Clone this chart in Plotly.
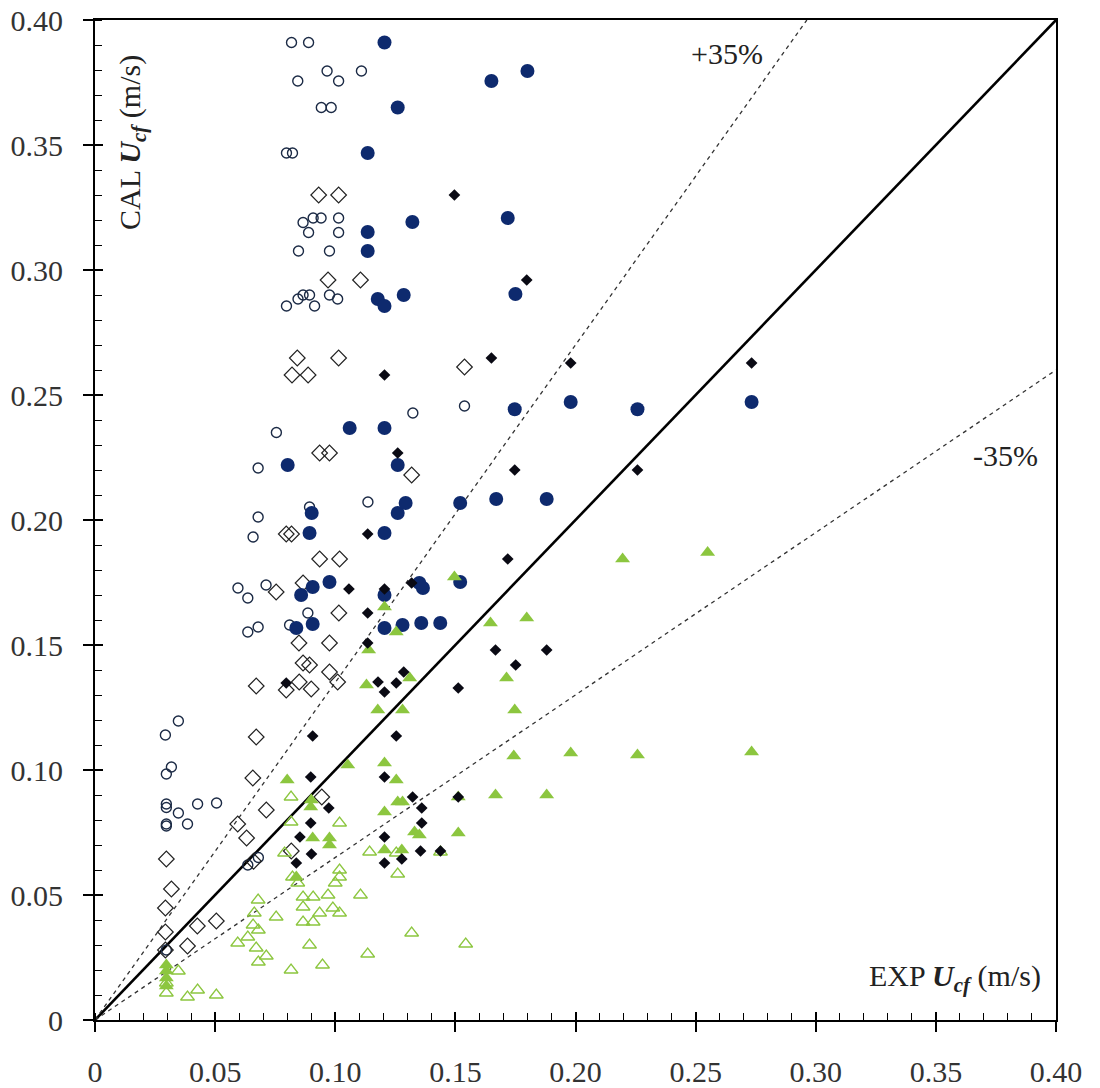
import plotly.graph_objects as go

# ---- data (EXP Ucf, CAL Ucf) ----
oc_x = [0.0818,0.0889,0.0844,0.0966,0.1014,0.1109,0.0942,0.0983,0.0797,0.0822,0.0866,0.0908,0.0941,0.1014,0.0889,0.1014,0.0847,0.0976,0.0797,0.0845,0.0866,0.0893,0.0914,0.0976,0.101,
        0.1323,0.1538,0.0755,0.0679,0.0679,0.0658,0.1136,0.0893,0.0595,0.0636,0.0712,0.0636,0.0679,0.081,0.0886,
        0.0293,0.0347,0.0297,0.0318,0.0297,0.0297,0.0297,0.0297,0.0347,0.0385,0.0427,0.0506,0.0297,0.068,0.0636]
oc_y = [0.391,0.391,0.3756,0.3796,0.3756,0.3796,0.365,0.365,0.3468,0.3468,0.319,0.3208,0.3208,0.3208,0.315,0.315,0.3076,0.3076,0.2856,0.2884,0.290,0.290,0.2856,0.290,0.2884,
        0.2428,0.2456,0.235,0.2208,0.2012,0.1932,0.2072,0.2052,0.1728,0.1688,0.174,0.1552,0.1572,0.158,0.1628,
        0.114,0.1196,0.0984,0.1012,0.0864,0.085,0.0784,0.0776,0.0828,0.0784,0.0864,0.0868,0.028,0.065,0.062]

fc_x = [0.1205,0.165,0.180,0.126,0.1135,0.1321,0.1718,0.1135,0.1135,0.1177,0.1205,0.1285,0.175,
        0.1747,0.198,0.2258,0.2733,0.106,0.1205,0.0802,0.126,0.0902,0.126,0.1293,0.152,0.167,0.188,0.0893,0.1205,
        0.0858,0.0906,0.0976,0.1205,0.135,0.1365,0.152,0.0838,0.0906,0.1205,0.128,0.1358,0.1437]
fc_y = [0.391,0.3756,0.3796,0.365,0.3468,0.3192,0.3208,0.3152,0.3076,0.2884,0.2856,0.29,0.2904,
        0.2443,0.2472,0.2443,0.2472,0.2368,0.2368,0.222,0.222,0.2028,0.2028,0.2068,0.2068,0.2084,0.2084,0.1948,0.1948,
        0.17,0.1732,0.1752,0.17,0.1748,0.1728,0.1752,0.1568,0.1584,0.1568,0.158,0.1588,0.1588]

od_x = [0.0931,0.1014,0.0970,0.1105,0.0842,0.1014,0.082,0.0887,0.0935,0.0976,0.1318,0.1538,0.0796,0.0818,0.0935,0.1018,0.0866,0.0754,0.1015,0.0849,0.0976,0.0866,0.0893,
        0.0671,0.0796,0.085,0.09,0.0976,0.101,0.0671,0.0657,0.0297,0.0944,0.0713,0.0594,0.0631,0.066,0.0817,0.0318,0.0293,0.0293,0.0293,0.0385,0.0426,0.0505]
od_y = [0.33,0.33,0.296,0.296,0.2648,0.2648,0.258,0.258,0.2268,0.2268,0.218,0.2612,0.1944,0.1944,0.1844,0.1844,0.1748,0.1712,0.1628,0.1508,0.1508,0.1428,0.142,
        0.1336,0.132,0.1352,0.1324,0.1392,0.1352,0.1132,0.0968,0.0644,0.0892,0.084,0.0784,0.0728,0.0635,0.0676,0.0524,0.0448,0.0352,0.028,0.0296,0.0376,0.0396]

fd_x = [0.1496,0.1797,0.1205,0.165,0.198,0.2733,0.2258,0.1747,0.126,0.1135,0.1718,0.1057,0.1205,0.1318,0.1135,0.1135,0.1285,0.1178,0.1205,0.1254,0.1512,0.1751,0.1667,0.188,
        0.0906,0.1254,0.0898,0.1205,0.0973,0.1322,0.136,0.1512,0.0898,0.136,0.0853,0.1205,0.0901,0.1355,0.1438,0.0838,0.1205,0.1277,0.0796]
fd_y = [0.33,0.296,0.258,0.2648,0.2628,0.2628,0.22,0.22,0.2268,0.1944,0.1844,0.1724,0.1724,0.1748,0.1628,0.1508,0.1392,0.1352,0.1312,0.1348,0.1328,0.142,0.148,0.148,
        0.1136,0.1136,0.0972,0.0972,0.0848,0.0892,0.0848,0.0892,0.0788,0.0788,0.0732,0.0732,0.0664,0.0676,0.0676,0.0628,0.0628,0.0644,0.1348]

ft_x = [0.2196,0.255,0.2258,0.2733,0.1713,0.1747,0.1743,0.198,0.1667,0.188,0.1512,0.1512,0.1052,0.1205,0.1254,0.080,0.0898,0.1205,0.126,0.128,0.133,0.135,0.1205,0.1277,
        0.0976,0.0906,0.0838,0.113,0.1177,0.128,0.131,0.1496,0.1254,0.1205,0.1139,0.1646,0.1797,0.0297,0.0297,0.0297,0.0297,0.0976,0.09]
ft_y = [0.1844,0.187,0.106,0.1072,0.1368,0.124,0.1056,0.1068,0.09,0.09,0.0748,0.0892,0.102,0.1028,0.096,0.096,0.0852,0.0832,0.0872,0.0872,0.0752,0.074,0.068,0.068,
        0.0728,0.0728,0.0572,0.134,0.124,0.124,0.1368,0.1772,0.1552,0.1652,0.148,0.1588,0.1608,0.0136,0.0168,0.0196,0.022,0.070,0.088]

ot_x = [0.0816,0.0816,0.1018,0.1143,0.0789,0.0822,0.0844,0.1018,0.1018,0.1,0.1105,0.0866,0.0908,0.0970,0.0866,0.0935,0.099,0.1018,0.0866,0.0908,0.0754,0.0679,0.0663,0.0658,
        0.0636,0.0594,0.068,0.0671,0.0713,0.068,0.0893,0.0947,0.0816,0.1135,0.0347,0.0385,0.0427,0.0505,0.0297,0.126,0.1318,0.1543,0.1438,0.1254,0.0297]
ot_y = [0.0892,0.0792,0.0788,0.0672,0.0668,0.0572,0.0548,0.06,0.0572,0.0548,0.05,0.0492,0.0492,0.05,0.0452,0.0428,0.0448,0.0428,0.0392,0.0392,0.0412,0.048,0.0428,0.038,
        0.0332,0.0308,0.036,0.0288,0.0256,0.0232,0.03,0.022,0.02,0.0264,0.0196,0.0092,0.012,0.01,0.0108,0.0584,0.0348,0.0304,0.0672,0.0668,0.0148]

line_x = [0.0, 0.40]
upper_x = [0.0, 0.40 / 1.35]
tick_vals = [0, 0.05, 0.10, 0.15, 0.20, 0.25, 0.30, 0.35, 0.40]
tick_text = ["0", "0.05", "0.10", "0.15", "0.20", "0.25", "0.30", "0.35", "0.40"]

NAVY = "#0e2a6e"
GREEN = "#8cc63f"
FONT = "Liberation Serif"
FS = 30

fig = go.Figure()
fig.add_trace(go.Scatter(x=line_x, y=[v for v in line_x], mode="lines",
                         line=dict(color="black", width=2.6), hoverinfo="skip"))
fig.add_trace(go.Scatter(x=upper_x, y=[1.35 * v for v in upper_x], mode="lines",
                         line=dict(color="#333", width=1.3, dash="4px,4px"), hoverinfo="skip"))
fig.add_trace(go.Scatter(x=line_x, y=[0.65 * v for v in line_x], mode="lines",
                         line=dict(color="#333", width=1.3, dash="4px,4px"), hoverinfo="skip"))

fig.add_trace(go.Scatter(x=oc_x, y=oc_y, mode="markers",
                         marker=dict(symbol="circle-open", size=10, color="#1b2a45", line=dict(width=1.4))))
fig.add_trace(go.Scatter(x=od_x, y=od_y, mode="markers",
                         marker=dict(symbol="diamond-open", size=12, color="#222", line=dict(width=1.2))))
fig.add_trace(go.Scatter(x=ot_x, y=ot_y, mode="markers",
                         marker=dict(symbol="triangle-up-open", size=12, color=GREEN, line=dict(width=1.3))))
fig.add_trace(go.Scatter(x=fc_x, y=fc_y, mode="markers",
                         marker=dict(symbol="circle", size=14, color=NAVY)))
fig.add_trace(go.Scatter(x=ft_x, y=ft_y, mode="markers",
                         marker=dict(symbol="triangle-up", size=13, color=GREEN)))
fig.add_trace(go.Scatter(x=fd_x, y=fd_y, mode="markers",
                         marker=dict(symbol="diamond", size=9, color="#0a0a14")))

axis_common = dict(range=[0, 0.40], tickvals=tick_vals, ticktext=tick_text,
                   ticks="outside", ticklen=10, tickwidth=1.5, tickcolor="black",
                   showline=True, linecolor="black", linewidth=2, mirror=True,
                   showgrid=False, zeroline=False, automargin=False,
                   tickfont=dict(family=FONT, size=FS, color="#333"),
                   minor=dict(dtick=0.01, ticks="inside", ticklen=7, tickwidth=1.2, tickcolor="black", showgrid=False))

fig.update_layout(
    width=1100, height=1088,
    margin=dict(l=95, r=44, t=20, b=68),
    paper_bgcolor="white", plot_bgcolor="white",
    showlegend=False,
    font=dict(family=FONT, size=FS, color="#222"),
    xaxis=dict(**axis_common, ticklabelstandoff=14),
    yaxis=dict(**axis_common, ticklabelstandoff=14),
    xaxis2=dict(overlaying="x", range=[0, 0.40], tickvals=tick_vals, showticklabels=False,
                ticks="inside", ticklen=8, tickwidth=1.5, tickcolor="black", side="bottom",
                showgrid=False, zeroline=False, showline=False, automargin=False),
    yaxis2=dict(overlaying="y", range=[0, 0.40], tickvals=tick_vals, showticklabels=False,
                ticks="inside", ticklen=8, tickwidth=1.5, tickcolor="black", side="left",
                showgrid=False, zeroline=False, showline=False, automargin=False),
    annotations=[
        dict(x=0.2629, y=0.3868, xref="x", yref="y", text="+35%", showarrow=False,
             font=dict(family=FONT, size=FS, color="#222")),
        dict(x=0.379, y=0.226, xref="x", yref="y", text="-35%", showarrow=False,
             font=dict(family=FONT, size=FS, color="#222")),
        dict(x=0.0152, y=0.351, xref="x", yref="y", textangle=-90,
             text="CAL <b><i>U</i></b><sub><i><b>cf</b></i></sub> (m/s)", showarrow=False,
             font=dict(family=FONT, size=FS, color="#222")),
        dict(x=0.3578, y=0.0168, xref="x", yref="y",
             text="EXP <b><i>U</i></b><sub><i><b>cf</b></i></sub> (m/s)", showarrow=False,
             font=dict(family=FONT, size=FS, color="#222")),
    ],
)
# dummy trace so the overlaying axes render their inside major ticks
fig.add_trace(go.Scatter(x=[None], y=[None], xaxis="x2", yaxis="y2", mode="markers", hoverinfo="skip"))

fig.write_html("out.html")
